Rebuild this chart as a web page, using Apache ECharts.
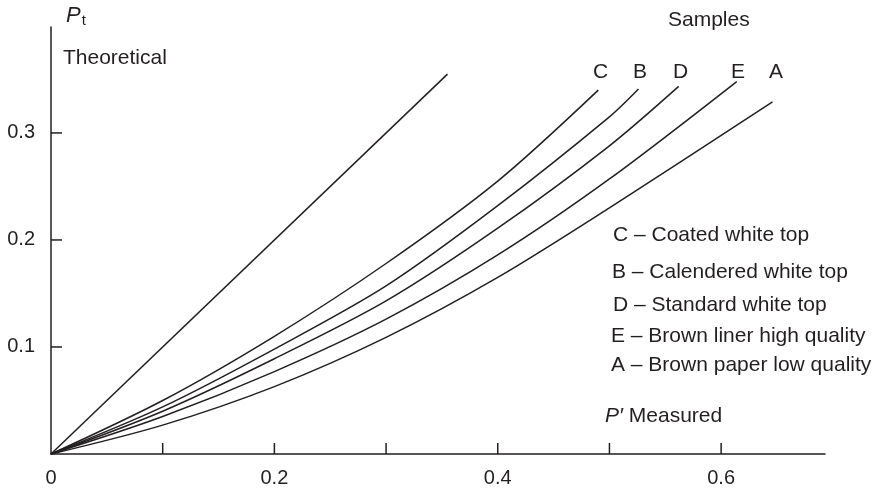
<!DOCTYPE html>
<html>
<head>
<meta charset="utf-8">
<script src="https://cdn.jsdelivr.net/npm/echarts@6/dist/echarts.min.js"></script>
<style>
html,body{margin:0;padding:0;background:#fff;}
#chart{width:880px;height:488px;}
</style>
</head>
<body>
<div id="chart"></div>
<script>
// ---- data ----
const theoX = [0, 0.355];
const theoY = [0, 0.355];
const cX = [0, 0.1, 0.2, 0.3, 0.4, 0.49];
const cY = [0, 0.050, 0.110, 0.178, 0.255, 0.340];
const bX = [0, 0.1, 0.2, 0.3, 0.4, 0.5, 0.526];
const bY = [0, 0.044, 0.098, 0.157, 0.232, 0.315, 0.341];
const dX = [0, 0.1, 0.2, 0.3, 0.4, 0.5, 0.562];
const dY = [0, 0.040, 0.089, 0.143, 0.211, 0.288, 0.3435];
const eX = [0, 0.1, 0.2, 0.3, 0.4, 0.5, 0.614];
const eY = [0, 0.035, 0.077, 0.126, 0.186, 0.257, 0.348];
const aX = [0, 0.1, 0.2, 0.3, 0.4, 0.5, 0.646];
const aY = [0, 0.027, 0.063, 0.109, 0.165, 0.230, 0.329];
const sampleLetters = ['C', 'B', 'D', 'E', 'A'];
const legendLines = [
  'C \u2013 Coated white top',
  'B \u2013 Calendered white top',
  'D \u2013 Standard white top',
  'E \u2013 Brown liner high quality',
  'A \u2013 Brown paper low quality'
];
const xTickValues = [0.1, 0.2, 0.3, 0.4, 0.5, 0.6];
const xLabelValues = [0, 0.2, 0.4, 0.6];
const yTickValues = [0.1, 0.2, 0.3];
const yLabelValues = [0.1, 0.2, 0.3];

// ---- chart ----
const ink = '#231f20';
const font = 'Liberation Sans, Arial, Helvetica, sans-serif';
const fs = 21;
const tickLen = 11;
function pairs(xs, ys) { return xs.map((x, i) => [x, ys[i]]); }
function lineSeries(name, xs, ys) {
  return {
    name: name, type: 'line', data: pairs(xs, ys), smooth: 0.3,
    showSymbol: false, symbol: 'none', silent: true,
    lineStyle: { color: ink, width: 1.5 }
  };
}
// inward tick marks, placed through the axis scales
function tickSeries(values, horizontalAxis) {
  return {
    type: 'custom', silent: true, clip: false, z: 5,
    data: values.map(v => horizontalAxis ? [v, 0] : [0, v]),
    renderItem: function (params, api) {
      const p = api.coord([api.value(0), api.value(1)]);
      const shape = horizontalAxis
        ? { x1: p[0], y1: p[1], x2: p[0], y2: p[1] - tickLen }
        : { x1: p[0], y1: p[1], x2: p[0] + tickLen, y2: p[1] };
      return { type: 'line', shape: shape, style: { stroke: ink, lineWidth: 1.5 } };
    }
  };
}

const chart = echarts.init(document.getElementById('chart'), null, { renderer: 'canvas' });

const letterX = [600, 640, 680, 738, 776];
const legendLeft = [613, 612, 613, 611, 611];
const legendY = [236, 273, 306, 337, 366];

const graphics = [];
sampleLetters.forEach((t, i) => {
  graphics.push({ type: 'text', left: letterX[i] - 7, top: 62,
    style: { text: t, font: fs + 'px ' + font, fill: ink } });
});
legendLines.forEach((t, i) => {
  graphics.push({ type: 'text', left: legendLeft[i], top: legendY[i] - 11,
    style: { text: t, font: fs + 'px ' + font, fill: ink } });
});
graphics.push({ type: 'text', left: 668, top: 10,
  style: { text: 'Samples', font: fs + 'px ' + font, fill: ink } });
graphics.push({ type: 'text', left: 63, top: 48,
  style: { text: 'Theoretical', font: fs + 'px ' + font, fill: ink } });
graphics.push({ type: 'text', left: 66, top: 5,
  style: { text: '{p|P}{s|t}', font: fs + 'px ' + font, fill: ink,
    rich: { p: { fontSize: 22, fontStyle: 'italic', fontFamily: font, fill: ink },
            s: { fontSize: 15, fontFamily: font, fill: ink, padding: [10, 0, 0, 1] } } } });
graphics.push({ type: 'text', left: 605, top: 406,
  style: { text: '{p|P\u2032} Measured', font: fs + 'px ' + font, fill: ink,
    rich: { p: { fontSize: fs, fontStyle: 'italic', fontFamily: font, fill: ink } } } });

chart.setOption({
  animation: false,
  backgroundColor: '#ffffff',
  grid: { left: 51, right: 55, top: 27, bottom: 32, containLabel: false },
  xAxis: {
    type: 'value', min: 0, max: 0.693, interval: 0.1,
    splitLine: { show: false },
    axisLine: { show: true, lineStyle: { color: ink, width: 1.5 } },
    axisTick: { show: false },
    axisLabel: { customValues: xLabelValues, margin: 14, color: ink, fontSize: 20, fontFamily: font,
      formatter: v => (v === 0 ? '0' : String(+v.toFixed(1))) }
  },
  yAxis: {
    type: 'value', min: 0, max: 0.399, interval: 0.1,
    splitLine: { show: false },
    axisLine: { show: true, lineStyle: { color: ink, width: 1.5 } },
    axisTick: { show: false },
    axisLabel: { customValues: yLabelValues, margin: 16, color: ink, fontSize: 20, fontFamily: font,
      formatter: v => String(+v.toFixed(1)) }
  },
  series: [
    lineSeries('Theoretical', theoX, theoY),
    lineSeries('C', cX, cY),
    lineSeries('B', bX, bY),
    lineSeries('D', dX, dY),
    lineSeries('E', eX, eY),
    lineSeries('A', aX, aY),
    tickSeries(xTickValues, true),
    tickSeries(yTickValues, false)
  ],
  graphic: graphics
});
</script>
</body>
</html>
